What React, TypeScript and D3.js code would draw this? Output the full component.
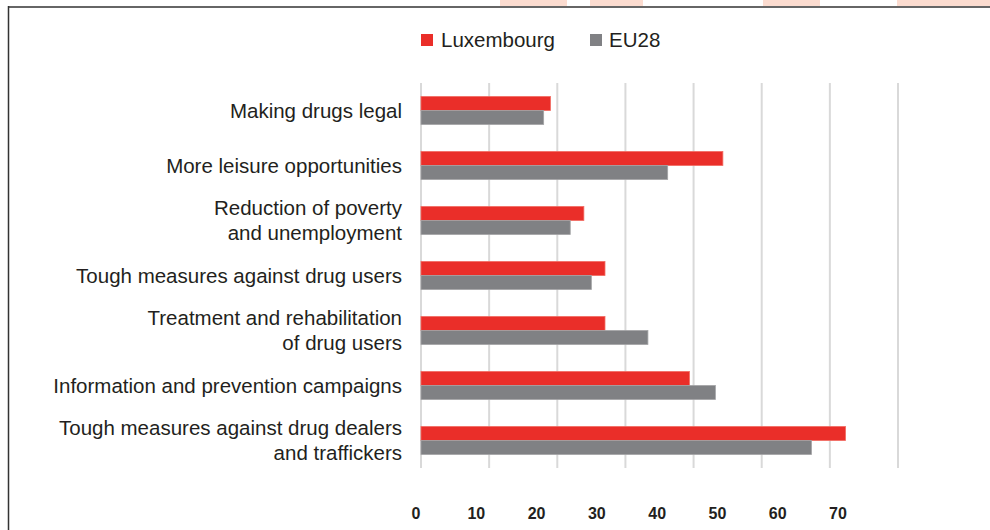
import React from 'react';
import * as d3 from 'd3';

const categories = [
  ['Making drugs legal'],
  ['More leisure opportunities'],
  ['Reduction of poverty', 'and unemployment'],
  ['Tough measures against drug users'],
  ['Treatment and rehabilitation', 'of drug users'],
  ['Information and prevention campaigns'],
  ['Tough measures against drug dealers', 'and traffickers'],
];
const luxembourg = [19.0, 44.3, 23.9, 27.0, 27.0, 39.4, 62.3];
const eu28 = [18.0, 36.2, 21.9, 25.0, 33.3, 43.2, 57.3];
const ticks = [0, 10, 20, 30, 40, 50, 60, 70];
const seriesNames = ['Luxembourg', 'EU28'];

const W = 990;
const H = 530;
const RED = '#ea2e29';
const GREY = '#808184';
const FONT = '"Liberation Sans", Arial, sans-serif';

export default function App() {
  const x = d3.scaleLinear().domain([0, 70]).range([421, 898]);
  // tick labels sit on their own, slightly narrower spacing in the source
  const xLabel = d3.scaleLinear().domain([0, 70]).range([416, 838]);
  const y = d3.scaleBand<number>().domain(d3.range(categories.length)).range([83, 468]).paddingInner(0);
  const barH = 14;

  // faint decorative band above the frame
  const pink = [[500, 567], [590, 643], [763, 820], [897, 990]];

  return (
    <div style={{ position: 'absolute', left: 0, top: 0 }}>
      <svg width={W} height={H} style={{ display: 'block', fontFamily: FONT }}>
        <rect width={W} height={H} fill="#fff" />
        {pink.map(([a, b], i) => (
          <rect key={i} x={a} y={0} width={b - a} height={6} fill="#fcdcd0" />
        ))}
        <line x1={8} x2={W} y1={7} y2={7} stroke="#666" strokeWidth={2} />
        <line x1={8.5} x2={8.5} y1={6} y2={H} stroke="#333" strokeWidth={1.5} />

        {/* legend */}
        <rect x={421} y={34} width={12} height={12} fill={RED} />
        <text x={441} y={47} fontSize={20.5} fill="#231f20">{seriesNames[0]}</text>
        <rect x={590} y={34} width={12} height={12} fill={GREY} />
        <text x={609} y={47} fontSize={20.5} fill="#231f20">{seriesNames[1]}</text>

        {/* gridlines */}
        {ticks.map(t => (
          <line key={t} x1={x(t)} x2={x(t)} y1={83} y2={468} stroke="#d9d9d9" strokeWidth={2} />
        ))}

        {/* bars */}
        {categories.map((_, i) => {
          const c = (y(i) as number) + y.bandwidth() / 2;
          return (
            <g key={i}>
              <rect x={x(0)} y={c - barH} width={x(luxembourg[i]) - x(0)} height={barH}
                fill={RED} stroke="#f26b62" strokeWidth={0.8} />
              <rect x={x(0)} y={c} width={x(eu28[i]) - x(0)} height={barH}
                fill={GREY} stroke="#a3a4a6" strokeWidth={0.8} />
            </g>
          );
        })}

        {/* category labels */}
        {categories.map((lines, i) => {
          const c = (y(i) as number) + y.bandwidth() / 2;
          const off = (lines.length - 1) * 12.5;
          return (
            <text key={i} x={402} textAnchor="end" fontSize={20.5} fill="#231f20">
              {lines.map((l, j) => (
                <tspan key={j} x={402} y={c - off + j * 25 + 7.3}>{l}</tspan>
              ))}
            </text>
          );
        })}

        {/* x tick labels */}
        {ticks.map(t => (
          <text key={t} x={xLabel(t)} y={519} textAnchor="middle" fontSize={16} fontWeight="bold" fill="#231f20">
            {t}
          </text>
        ))}
      </svg>
    </div>
  );
}
